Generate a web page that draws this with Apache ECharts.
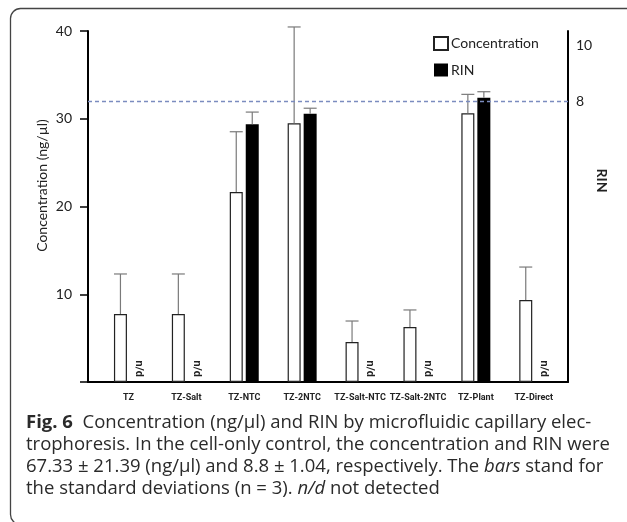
<!DOCTYPE html>
<html>
<head>
<meta charset="utf-8">
<script src="https://cdn.jsdelivr.net/npm/echarts@6/dist/echarts.min.js"></script>
<style>
  html, body { margin: 0; padding: 0; background: #fff; }
  #chart { width: 627px; height: 522px; }
</style>
</head>
<body>
<div id="chart"></div>
<script>
// values
const categories = ['TZ', 'TZ-Salt', 'TZ-NTC', 'TZ-2NTC', 'TZ-Salt-NTC', 'TZ-Salt-2NTC', 'TZ-Plant', 'TZ-Direct'];
const concMean = [7.75, 7.75, 21.65, 29.48, 4.56, 6.27, 30.62, 9.34];
const concSD = [4.56, 4.56, 6.87, 10.98, 2.39, 1.94, 2.16, 3.76];
const rinMean = [null, null, 7.34, 7.64, null, null, 8.10, null];
const rinSD = [null, null, 0.35, 0.16, null, null, 0.17, null];
const rinRef = 8;

const chartFont = 'Lato';
const capFont = 'Open Sans';
const smallFont = 'Roboto';

let myChart = echarts.init(document.getElementById('chart'));

// error bar drawn above the bar, shifted to the bar's side of the pair
function errorBar(shift) {
  return function (params, api) {
    let i = api.value(0);
    let top = api.coord([i, api.value(2)]);
    let base = api.coord([i, api.value(1)]);
    let x = top[0] + shift;
    return {
      type: 'group',
      children: [
        { type: 'line', shape: { x1: x, y1: base[1], x2: x, y2: top[1] }, style: { stroke: '#7a7a7a', lineWidth: 1.2 } },
        { type: 'line', shape: { x1: x - 6.5, y1: top[1], x2: x + 6.5, y2: top[1] }, style: { stroke: '#7a7a7a', lineWidth: 1.2 } }
      ]
    };
  };
}

let concErr = categories.map((c, i) => [i, concMean[i], concMean[i] + concSD[i]]);
let rinErr = [];
let notDetected = [];
categories.forEach((c, i) => {
  if (rinMean[i] == null) notDetected.push([i, 0]);
  else rinErr.push([i, rinMean[i], rinMean[i] + rinSD[i]]);
});

let capStyle = { fontFamily: capFont, fontSize: 18.5, fill: '#2a2a2a' };

let option = {
  animation: false,
  backgroundColor: '#fff',
  legend: {
    data: ['Concentration', 'RIN'],
    orient: 'vertical',
    left: 428,
    top: 31,
    icon: 'rect',
    itemWidth: 14,
    itemHeight: 13,
    itemGap: 12,
    textStyle: { fontFamily: chartFont, fontSize: 14, color: '#222', padding: [0, 0, 0, -2] }
  },
  grid: [
    { left: 88, right: 59, top: 31, bottom: 140 },
    { left: 99.5, right: 64.3, top: 31, bottom: 140 }
  ],
  xAxis: [
    {
      gridIndex: 0, type: 'value', min: 0, max: 1,
      axisLine: { show: true, lineStyle: { color: '#000', width: 2 } },
      axisTick: { show: false }, axisLabel: { show: false }, splitLine: { show: false }
    },
    {
      gridIndex: 1, type: 'category', data: categories,
      axisLine: { show: false }, axisTick: { show: false },
      axisLabel: { interval: 0, margin: 11, fontFamily: smallFont, fontWeight: 'bold', fontSize: 9, color: '#222' }
    }
  ],
  yAxis: [
    {
      gridIndex: 0, type: 'value', min: 0, max: 40, interval: 10, position: 'left',
      name: 'Concentration (ng/µl)', nameLocation: 'middle', nameRotate: 90, nameGap: 39,
      nameMoveOverlap: false,
      nameTextStyle: { fontFamily: chartFont, fontSize: 14, color: '#222', padding: [0, 0, 0, 42] },
      axisLine: { show: true, lineStyle: { color: '#000', width: 2 } },
      axisTick: { show: true, length: 8, lineStyle: { color: '#000', width: 1.5 } },
      axisLabel: { margin: 16, fontFamily: chartFont, fontSize: 14, color: '#222', formatter: v => (v === 0 ? '' : v) },
      splitLine: { show: false }
    },
    {
      gridIndex: 0, type: 'value', min: 0, max: 10, interval: 2, position: 'right',
      name: 'RIN', nameLocation: 'middle', nameRotate: -90, nameGap: 27,
      nameMoveOverlap: false,
      nameTextStyle: { fontFamily: chartFont, fontSize: 14, fontWeight: 'bold', color: '#222', padding: [0, 52, 0, 0] },
      axisLine: { show: true, lineStyle: { color: '#000', width: 2 } },
      axisTick: { show: false },
      axisLabel: {
        margin: 8, fontFamily: chartFont, fontSize: 14, color: '#222',
        formatter: v => (v === 10 ? '{t|10}' : v === 8 ? '8' : ''),
        rich: { t: { fontFamily: chartFont, fontSize: 14, color: '#222', padding: [28, 0, 0, 0] } }
      },
      splitLine: { show: false }
    },
    { gridIndex: 1, type: 'value', min: 0, max: 40, show: false },
    { gridIndex: 1, type: 'value', min: 0, max: 10, show: false }
  ],
  series: [
    {
      name: 'Concentration', type: 'bar', xAxisIndex: 1, yAxisIndex: 2,
      data: concMean, barWidth: 13, barGap: '23%',
      itemStyle: { color: '#fff', borderColor: '#222', borderWidth: 1.2 }
    },
    {
      name: 'RIN', type: 'bar', xAxisIndex: 1, yAxisIndex: 3,
      data: rinMean, barWidth: 13,
      itemStyle: { color: '#000' }
    },
    {
      name: 'concErr', type: 'custom', xAxisIndex: 1, yAxisIndex: 2, clip: false,
      data: concErr, renderItem: errorBar(-8), z: 3
    },
    {
      name: 'rinErr', type: 'custom', xAxisIndex: 1, yAxisIndex: 3, clip: false,
      data: rinErr, renderItem: errorBar(8), z: 3
    },
    {
      name: 'nd', type: 'custom', xAxisIndex: 1, yAxisIndex: 3,
      data: notDetected,
      renderItem: function (params, api) {
        let p = api.coord([api.value(0), api.value(1)]);
        return {
          type: 'text', x: p[0] + 10, y: p[1] - 5, rotation: -Math.PI / 2,
          style: { text: 'n/d', fontFamily: smallFont, fontWeight: 'bold', fontSize: 11, fill: '#222', align: 'right', verticalAlign: 'middle' }
        };
      }
    },
    {
      name: 'ref', type: 'line', xAxisIndex: 0, yAxisIndex: 1, data: [],
      markLine: {
        silent: true, symbol: 'none', label: { show: false },
        lineStyle: { color: '#7b8cbf', type: [4, 3], width: 1.3 },
        data: [{ yAxis: rinRef }]
      }
    }
  ],
  graphic: [
    {
      type: 'rect', shape: { x: 10.5, y: 8.5, width: 640, height: 516, r: 10 },
      style: { fill: 'none', stroke: '#444', lineWidth: 1.3 }, silent: true
    },
    {
      type: 'text', left: 26, top: 413,
      style: Object.assign({
        text: '{b|Fig. 6}  Concentration (ng/µl) and RIN by microfluidic capillary elec-',
        rich: { b: Object.assign({}, capStyle, { fontWeight: 'bold' }) }
      }, capStyle)
    },
    {
      type: 'text', left: 26, top: 435,
      style: Object.assign({ text: 'trophoresis. In the cell-only control, the concentration and RIN were' }, capStyle)
    },
    {
      type: 'text', left: 26, top: 457,
      style: Object.assign({
        text: '67.33 ± 21.39 (ng/µl) and 8.8 ± 1.04, respectively. The {i|bars} stand for',
        rich: { i: Object.assign({}, capStyle, { fontStyle: 'italic' }) }
      }, capStyle)
    },
    {
      type: 'text', left: 26, top: 479,
      style: Object.assign({
        text: 'the standard deviations (n = 3). {i|n/d} not detected',
        rich: { i: Object.assign({}, capStyle, { fontStyle: 'italic' }) }
      }, capStyle)
    }
  ]
};

option && myChart.setOption(option);
</script>
</body>
</html>
